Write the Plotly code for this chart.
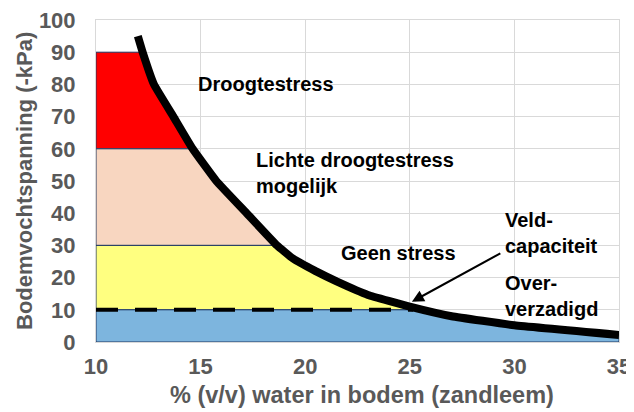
import numpy as np
import plotly.graph_objects as go

# Retention curve (volumetric water content % vs soil water tension -kPa)
curve_x = [12.0, 12.23, 12.77, 13.7, 14.62, 15.75, 17.2, 18.65, 19.4, 20.5, 21.5, 23.0, 25.0, 27.0, 30.0, 35.0]
curve_y = [95, 90, 80, 70, 60, 50, 40, 30, 26, 22, 18.8, 14.6, 11.0, 8.0, 5.2, 2.2]

# Stress bands (lower, upper tension) and colours
band_names = ["Droogtestress", "Lichte droogtestress mogelijk", "Geen stress", "Oververzadigd"]
band_lo = [60, 30, 10, 0]
band_hi = [90, 60, 30, 10]
band_colors = ["#FF0000", "#F8D6C0", "#FFFF80", "#7DB5DE"]

field_capacity = 10
x_min, x_max = 10, 35

x_title = "% (v/v) water in bodem (zandleem)"
y_title = "Bodemvochtspanning (-kPa)"

cx = np.array(curve_x, dtype=float)
cy = np.array(curve_y, dtype=float)


def x_at(level):
    return float(np.interp(level, cy[::-1], cx[::-1]))


fig = go.Figure()

for name, lo, hi, col in zip(band_names, band_lo, band_hi, band_colors):
    if lo > 0:
        inner = [(xx, yy) for xx, yy in zip(cx, cy) if lo < yy < hi]
        px_ = [x_min, x_min, x_at(hi)] + [p[0] for p in inner] + [x_at(lo), x_min]
        py_ = [lo, hi, hi] + [p[1] for p in inner] + [lo, lo]
    else:
        inner = [(xx, yy) for xx, yy in zip(cx, cy) if yy < hi]
        px_ = [x_min, x_min, x_at(hi)] + [p[0] for p in inner] + [x_max, x_min]
        py_ = [lo, hi, hi] + [p[1] for p in inner] + [lo, lo]
    fig.add_trace(go.Scatter(
        x=px_, y=py_, mode="lines", fill="toself", fillcolor=col,
        line=dict(color="#203864", width=1), name=name, showlegend=False,
        hoverinfo="skip"))

# field-capacity dashed line
fig.add_trace(go.Scatter(
    x=[x_min, x_at(field_capacity) - 0.5], y=[field_capacity, field_capacity],
    mode="lines", line=dict(color="black", width=4, dash="22px,17px"),
    showlegend=False, hoverinfo="skip"))

# retention curve
fig.add_trace(go.Scatter(
    x=curve_x, y=curve_y, mode="lines",
    line=dict(color="black", width=8, shape="spline", smoothing=0.3),
    showlegend=False))

lab_font = dict(family="Liberation Sans, Arial, sans-serif", size=20, color="black", weight="bold")

labels = [
    ("Droogtestress", 14.78, 80.1),
    ("Lichte droogtestress<br>mogelijk", 17.55, 52.5),
    ("Geen stress", 21.63, 27.5),
    ("Veld-<br>capaciteit", 29.45, 34.0),
    ("Over-<br>verzadigd", 29.45, 14.4),
]
for txt, xx, yy in labels:
    fig.add_annotation(x=xx, y=yy, text=txt, showarrow=False, xanchor="left",
                       yanchor="middle", align="left", font=lab_font)

fig.add_annotation(x=25.1, y=12.5, ax=29.4, ay=27.8, axref="x", ayref="y",
                   text="", showarrow=True, arrowhead=2, arrowsize=1.2,
                   arrowwidth=2, arrowcolor="black")

tick_font = dict(family="Liberation Sans, Arial, sans-serif", size=22, color="#595959", weight="bold")
xtitle_font = dict(family="Liberation Sans, Arial, sans-serif", size=23.5, color="#595959", weight="bold")
ytitle_font = dict(family="Liberation Sans, Arial, sans-serif", size=22, color="#595959", weight="bold")

# axis titles
fig.add_annotation(x=0.5086, y=-0.1646, xref="paper", yref="paper", text=x_title,
                   showarrow=False, xanchor="center", yanchor="middle", font=xtitle_font)
fig.add_annotation(x=-0.1377, y=0.5, xref="paper", yref="paper", text=y_title,
                   showarrow=False, xanchor="center", yanchor="middle", textangle=-90,
                   font=ytitle_font)

# page body has an 8px margin, so the figure is sized to fill the rest of the window
fig.update_layout(
    width=626, height=404,
    margin=dict(l=88, r=15, t=12, b=70),
    paper_bgcolor="white", plot_bgcolor="white",
    xaxis=dict(range=[x_min, x_max], dtick=5, tick0=10, showgrid=True,
               gridcolor="#D9D9D9", gridwidth=1, zeroline=False, automargin=False,
               showline=True, mirror=True, linecolor="#D9D9D9", layer="below traces",
               ticks="outside", ticklen=5, tickcolor="rgba(0,0,0,0)",
               ticklabeloverflow="allow", tickfont=tick_font),
    yaxis=dict(range=[0, 100], dtick=10, showgrid=True, gridcolor="#D9D9D9",
               gridwidth=1, zeroline=False, automargin=False,
               showline=True, mirror=True, linecolor="#D9D9D9", layer="below traces",
               ticks="outside", ticklen=15, tickcolor="rgba(0,0,0,0)",
               ticklabeloverflow="allow", tickfont=tick_font),
)

fig.write_html("out.html")
